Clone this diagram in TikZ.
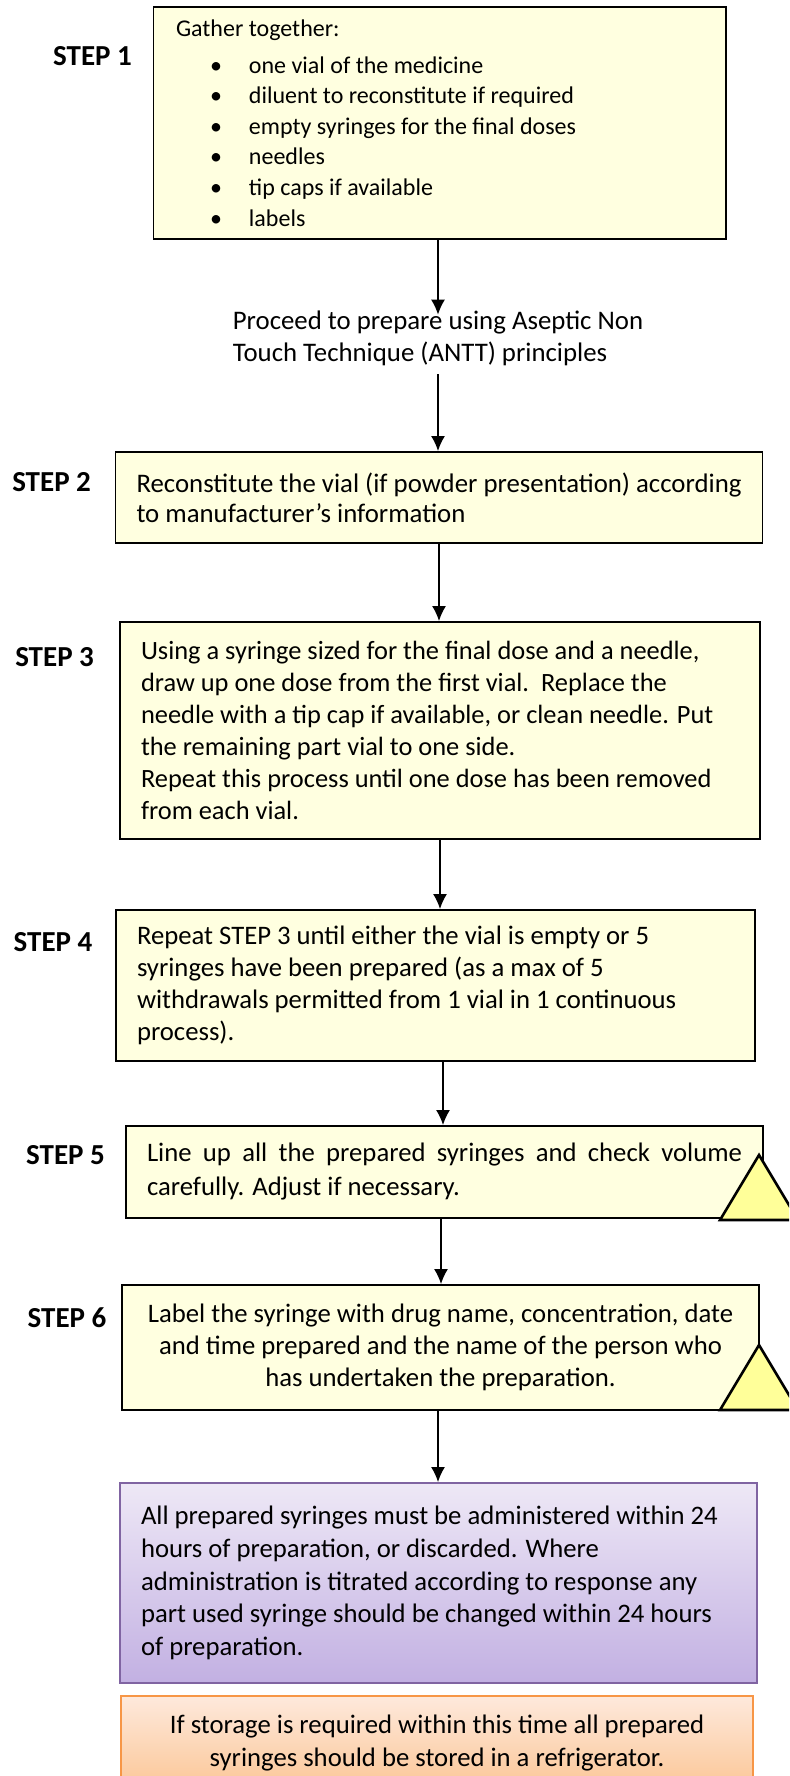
\documentclass[tikz,border=0pt]{standalone}
\usepackage{fontspec}
\setmainfont{Carlito}
\usetikzlibrary{arrows.meta,calc}
\definecolor{boxyellow}{HTML}{FFFFE0}
\definecolor{triyellow}{HTML}{FFFF99}
\definecolor{purpletop}{HTML}{EEE8F6}
\definecolor{purplebot}{HTML}{C2B0E2}
\definecolor{purpleline}{HTML}{8064A2}
\definecolor{orangetop}{HTML}{FEE9DC}
\definecolor{orangebot}{HTML}{FBC696}
\definecolor{orangeline}{HTML}{F79646}
\newcommand{\stepbul}{\makebox[36.5pt][l]{\hspace{17pt}\textbullet}}
\tikzset{
  stepbox/.style={draw=black, line width=0.95pt, fill=boxyellow, inner xsep=10.5pt, inner ysep=0pt,
    align=flush left, font=\fontsize{13.35}{16}\selectfont,
    execute at begin node={\spaceskip=0pt\xspaceskip=0pt}},
  steplbl/.style={font=\fontsize{14.5}{16}\selectfont\bfseries, inner sep=0pt},
  arr/.style={line width=0.8pt, -{Latex[length=7.5pt,width=7pt]}},
  warn/.style={draw=black, line width=1.3pt, fill=triyellow, line join=miter},
}
\begin{document}
\begin{tikzpicture}[x=0.5pt,y=-0.5pt]
\useasboundingbox (0,0) rectangle (789,1776);
\clip (0,0) rectangle (789,1776);

% boxes
\node[stepbox, text width=263.75pt, inner xsep=11.25pt, minimum height=116pt,
      font=\fontsize{12}{15.3}\selectfont] (s1) at (439.75,123)
  {\mbox{Gather together:}\\[3pt]
   \mbox{\stepbul one vial of the medicine}\\
   \mbox{\stepbul diluent to reconstitute if required}\\
   \mbox{\stepbul empty syringes for the final doses}\\
   \mbox{\stepbul needles}\\
   \mbox{\stepbul tip caps if available}\\
   \mbox{\stepbul labels}};

\node[align=flush left, inner sep=0pt, font=\fontsize{13.4}{16}\selectfont] (proceed) at (438,338.5)
  {\mbox{Proceed to prepare using Aseptic Non}\\ \mbox{Touch Technique (ANTT) principles}};

\node[stepbox, text width=302.5pt, minimum height=45.5pt, font=\fontsize{13.4}{15}\selectfont] (s2) at (439,497.5)
  {\mbox{Reconstitute the vial (if powder presentation) according}\\ \mbox{to manufacturer’s information}};

\node[stepbox, text width=299pt, minimum height=108.5pt, font=\fontsize{13.2}{16}\selectfont] (s3) at (440,730.5)
  {\mbox{Using a syringe sized for the final dose and a needle,}\\
   \mbox{draw up one dose from the first vial.\ \ Replace the}\\
   \mbox{needle with a tip cap if available, or clean needle. Put}\\
   \mbox{the remaining part vial to one side.}\\
   \mbox{Repeat this process until one dose has been removed}\\
   \mbox{from each vial.}};

\node[stepbox, text width=298.5pt, minimum height=75.5pt] (s4) at (435.5,985.5)
  {\mbox{Repeat STEP 3 until either the vial is empty or 5}\\
   \mbox{syringes have been prepared (as a max of 5}\\
   \mbox{withdrawals permitted from 1 vial in 1 continuous}\\
   \mbox{process).}};

\node[stepbox, text width=297.5pt, minimum height=46pt, font=\fontsize{13.35}{17}\selectfont] (s5) at (444.5,1172)
  {\makebox[297.5pt][s]{Line up all the prepared syringes and check volume}\\
   \mbox{carefully. Adjust if necessary.}};

\node[stepbox, text width=297.5pt, minimum height=62.5pt, align=flush center] (s6) at (440.5,1347.5)
  {\mbox{Label the syringe with drug name, concentration, date}\\
   \mbox{and time prepared and the name of the person who}\\
   \mbox{has undertaken the preparation.}};

\node[stepbox, draw=purpleline, top color=purpletop, bottom color=purplebot,
      text width=297.5pt, minimum height=100pt, font=\fontsize{13.35}{16.4}\selectfont] (admin) at (438.5,1583)
  {\mbox{All prepared syringes must be administered within 24}\\
   \mbox{hours of preparation, or discarded. Where}\\
   \mbox{administration is titrated according to response any}\\
   \mbox{part used syringe should be changed within 24 hours}\\
   \mbox{of preparation.}\\[6pt]};

\node[stepbox, draw=orangeline, top color=orangetop, bottom color=orangebot,
      text width=295pt, minimum height=47pt, align=flush center, font=\fontsize{13.35}{16.5}\selectfont] (store) at (437,1743)
  {\mbox{If storage is required within this time all prepared}\\
   \mbox{syringes should be stored in a refrigerator.}};

% step labels
\node[steplbl, anchor=base] (l1) at (92.5,66) {STEP 1};
\node[steplbl, anchor=base] (l2) at (51.6,491) {STEP 2};
\node[steplbl, anchor=base] (l3) at (54.6,666) {STEP 3};
\node[steplbl, anchor=base] (l4) at (53,951) {STEP 4};
\node[steplbl, anchor=base] (l5) at (65.5,1164) {STEP 5};
\node[steplbl, anchor=base] (l6) at (67,1327) {STEP 6};

% warning triangles
\draw[warn] (759,1155) -- (798,1220) -- (720,1220) -- cycle;
\draw[warn] (759,1345) -- (798,1410) -- (720,1410) -- cycle;

% connectors
\draw[arr] (s1.south -| proceed.north) -- ([yshift=-2pt]proceed.north);
\draw[arr] ([yshift=-4pt]proceed.south) -- (proceed.south |- s2.north);
\draw[arr] (s2.south) -- (s2.south |- s3.north);
\draw[arr] (s3.south) -- (s3.south |- s4.north);
\draw[arr] ([xshift=3.75pt]s4.south) -- ([xshift=3.75pt]s4.south |- s5.north);
\draw[arr] ([xshift=-1.75pt]s5.south) -- ([xshift=-1.75pt]s5.south |- s6.north);
\draw[arr] ([xshift=-1.25pt]s6.south) -- ([xshift=-1.25pt]s6.south |- admin.north);
\end{tikzpicture}
\end{document}
